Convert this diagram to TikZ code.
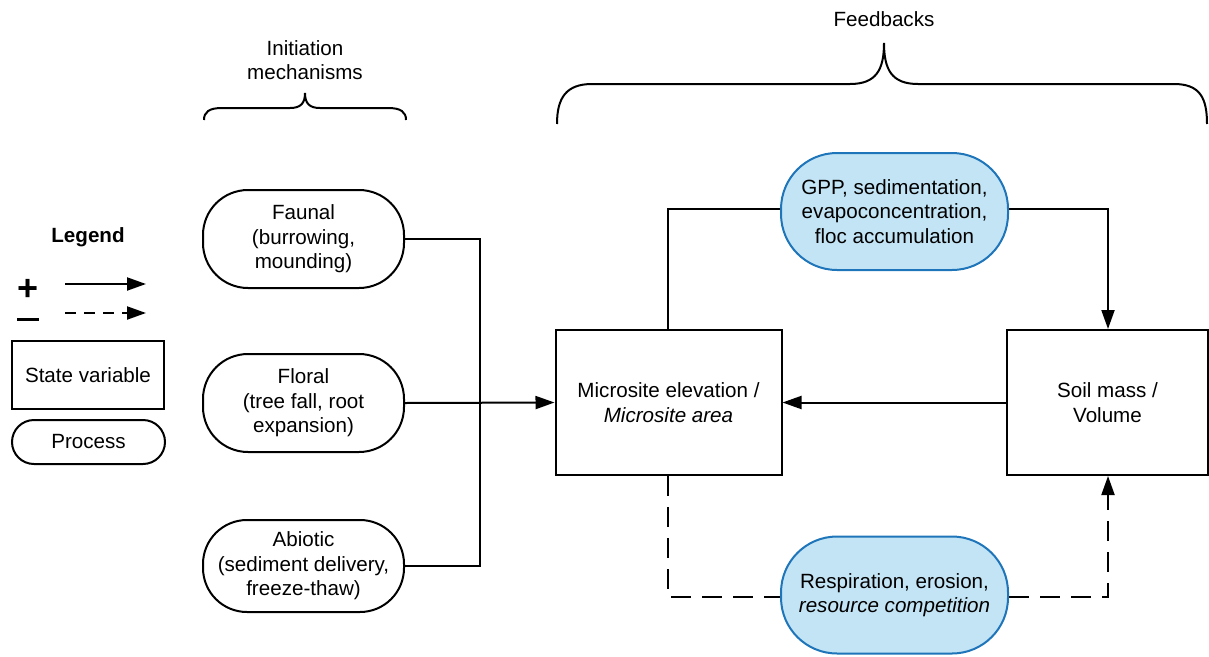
\documentclass[tikz,border=0pt]{standalone}
\usepackage{fontspec}
\setmainfont{Liberation Sans}
\usetikzlibrary{arrows.meta}
\definecolor{procfill}{RGB}{195,228,245}
\definecolor{procdraw}{RGB}{30,117,185}
\begin{document}
\begin{tikzpicture}[x=1pt,y=-1pt,
  every node/.style={font=\fontsize{20.6}{24.5}\selectfont, align=center, inner sep=0pt},
  ln/.style={line width=2pt},
  arr/.style={ln,-{Triangle[length=19pt,width=13pt]}},
  dsh/.style={ln,dash pattern=on 20pt off 11pt},
  statebox/.style={draw,line width=2pt,minimum width=226pt,minimum height=145pt},
  initproc/.style={draw,line width=2pt,rounded corners=45pt,minimum width=201pt},
  fbproc/.style={draw=procdraw,fill=procfill,line width=2pt,rounded corners=56pt,minimum width=227pt,minimum height=117pt},
  brace/.style={line width=2pt}
]
\useasboundingbox (0,0) rectangle (1209,656);

% headings
\node (fbtitle) at (884,19) {Feedbacks};
\node (inittitle) at (305,60) {Initiation\\mechanisms};

% braces
\draw[brace] (557,124) .. controls (557,98) and (566,84) .. (592,84) -- (850,84)
  .. controls (876,84) and (884,70) .. (884,43)
  .. controls (884,70) and (892,84) .. (918,84) -- (1174,84)
  .. controls (1200,84) and (1207,98) .. (1207,124);
\draw[brace] (204,120) .. controls (204,112) and (209,108) .. (222,108) -- (290,108)
  .. controls (301,108) and (305,103) .. (305,93)
  .. controls (305,103) and (309,108) .. (320,108) -- (388,108)
  .. controls (401,108) and (406,112) .. (406,120);

% legend
\node[font=\fontsize{20.6}{24.5}\selectfont\bfseries] (legtitle) at (88,237) {Legend};
\node[font=\fontsize{36}{36}\selectfont\bfseries] (plus) at (28,290) {+};
\node (minus) at (28,319) {\rule{22pt}{3pt}};
\coordinate (la1) at (65,284);
\coordinate (lb1) at (146,284);
\coordinate (la2) at (65,313);
\coordinate (lb2) at (146,313);
\draw[arr] (la1) -- (lb1);
\draw[ln,dash pattern=on 11pt off 8pt,-{Triangle[length=19pt,width=13pt]}] (la2) -- (lb2);
\node[draw,line width=2pt,minimum width=152pt,minimum height=68pt] (legstate) at (88,375) {State variable};
\node[draw,line width=2pt,rounded corners=22pt,minimum width=153pt,minimum height=44pt] (legproc) at (88.5,442) {Process};

% initiation nodes
\node[initproc,minimum height=98pt] (faunal) at (303.5,239) {Faunal\\(burrowing,\\mounding)};
\node[initproc,minimum height=98pt] (floral) at (303.5,403) {Floral\\(tree fall, root\\expansion)};
\node[initproc,minimum height=92pt,rounded corners=44pt] (abiotic) at (303.5,566) {Abiotic\\(sediment delivery,\\freeze-thaw)};

% state variables
\node[statebox] (micro) at (668.5,402.5) {Microsite elevation /\\\textit{Microsite area}};
\node[statebox,minimum width=201pt] (soil) at (1107.5,402.5) {Soil mass /\\Volume};

% feedback processes
\node[fbproc] (gpp) at (894.5,211.5) {GPP, sedimentation,\\evapoconcentration,\\floc accumulation};
\node[fbproc] (resp) at (894.5,595) {Respiration, erosion,\\\textit{resource competition}};

% initiation connectors
\coordinate (junc) at (480,403);
\draw[ln] (faunal.east) -- (480,239) -- (junc);
\draw[ln] (abiotic.east) -- (480,566) -- (junc);
\draw[arr] (floral.east) -- (micro.west);

% feedback connectors
\draw[ln] (micro.north -| 668,0) -- (668,209) -- (gpp.west |- 0,209);
\draw[arr] (gpp.east |- 0,209) -- (1108,209) -- (soil.north -| 1108,0);
\draw[arr] (soil.west) -- (micro.east);
\draw[dsh] (micro.south -| 668,0) -- (668,597) -- (resp.west |- 0,597);
\draw[dsh,-{Triangle[length=19pt,width=13pt]}] (resp.east |- 0,597) -- (1108,597) -- (soil.south -| 1108,0);
\end{tikzpicture}
\end{document}
